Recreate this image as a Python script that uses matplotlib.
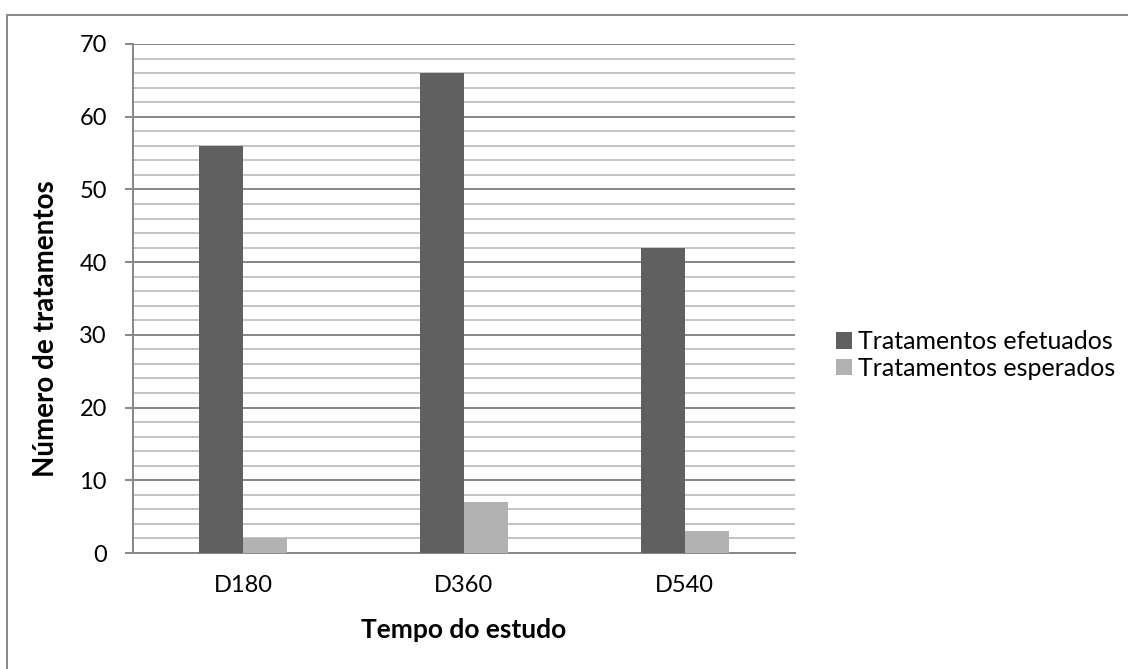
import matplotlib
matplotlib.use("Agg")
import matplotlib.pyplot as plt
from matplotlib.patches import Rectangle, Patch
from matplotlib.ticker import MultipleLocator
import numpy as np

categories = ["D180", "D360", "D540"]
efetuados = [56, 66, 42]
esperados = [2, 7, 3]
series_names = ["Tratamentos efetuados", "Tratamentos esperados"]
y_ticks = [0, 10, 20, 30, 40, 50, 60, 70]

plt.rcParams['font.family'] = ['Lato', 'DejaVu Sans']

W, H = 1128, 669
fig = plt.figure(figsize=(W / 100, H / 100), dpi=100)
ax = fig.add_axes([133 / W, 1 - 553 / H, (795 - 133) / W, (553 - 44) / H])

dark = "#606060"
light = "#b2b2b2"
x = np.arange(len(categories))
bw = 0.2
ax.bar(x - bw / 2, efetuados, width=bw, color=dark, label=series_names[0], zorder=3)
ax.bar(x + bw / 2, esperados, width=bw, color=light, label=series_names[1], zorder=3)

ax.set_xlim(-0.5, len(categories) - 0.5)
ax.set_ylim(0, 70)
ax.set_yticks(y_ticks)
ax.yaxis.set_minor_locator(MultipleLocator(2))
ax.set_xticks(x)
ax.set_xticklabels(categories)

ax.set_axisbelow(True)
ax.grid(axis='y', which='major', color='#878787', linewidth=1.4)
ax.grid(axis='y', which='minor', color='#c4c4c4', linewidth=1.4)

for s in ['top', 'right']:
    ax.spines[s].set_visible(False)
for s in ['left', 'bottom']:
    ax.spines[s].set_color('#878787')
    ax.spines[s].set_linewidth(1.4)

ax.tick_params(axis='y', which='major', length=5.8, width=1.4, color='#878787',
               labelsize=17, pad=13)
ax.tick_params(axis='y', which='minor', length=0)
ax.tick_params(axis='x', length=0, labelsize=17, pad=16)

ax.set_ylabel("Número de tratamentos", fontsize=20, fontweight='bold')
ax.yaxis.set_label_coords(-0.112, 0.44)
ax.set_xlabel("Tempo do estudo", fontsize=19, fontweight='bold')
ax.xaxis.set_label_coords(0.5, -0.128)

handles = [Patch(facecolor=dark), Patch(facecolor=light)]
fig.legend(handles, series_names, loc='center left',
           bbox_to_anchor=(836 / W, 1 - 355 / H), frameon=False,
           fontsize=18, handlelength=0.64, handleheight=0.64,
           handletextpad=0.25, borderpad=0, borderaxespad=0, labelspacing=0.15)

fig.patches.append(Rectangle((7 / W, -0.1), 1.2, 1 - 15 / H + 0.1,
                             transform=fig.transFigure, fill=False,
                             edgecolor='#888888', linewidth=1.4))

fig.savefig("out.png", dpi=100)
